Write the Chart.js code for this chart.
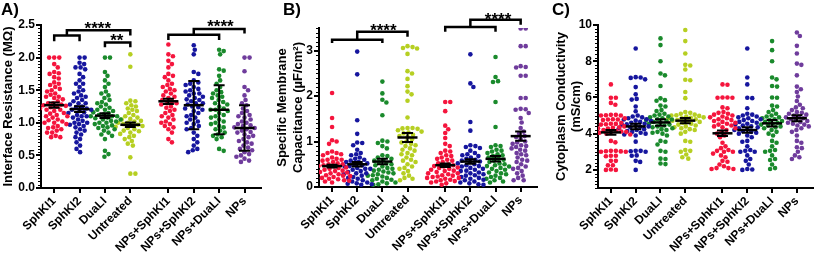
<!DOCTYPE html>
<html>
<head>
<meta charset="utf-8">
<script src="https://cdn.jsdelivr.net/npm/chart.js@4.4.1/dist/chart.umd.min.js"></script>
<style>
  html, body { margin: 0; padding: 0; background: #fff; }
  #wrap { position: relative; width: 817px; height: 254px; overflow: hidden; font-family: "Liberation Sans", Arial, sans-serif; }
  canvas { position: absolute; top: 0; }
  .tag { position: absolute; top: 1px; font-weight: bold; font-size: 17px; line-height: 17px; color: #000; }
</style>
</head>
<body>
<div id="wrap">
  <canvas id="chartA" width="270" height="254" style="left:0px"></canvas>
  <canvas id="chartB" width="275" height="254" style="left:270px"></canvas>
  <canvas id="chartC" width="272" height="254" style="left:545px"></canvas>
  <div class="tag" style="left:1px">A)</div>
  <div class="tag" style="left:283px">B)</div>
  <div class="tag" style="left:552px">C)</div>
</div>
<script>
// categories, shared by all three panels (gap between the two groups of four)
const catLabels = ['SphKI1', 'SphKI2', 'DuaLI', 'Untreated', 'NPs+SphKI1', 'NPs+SphKI2', 'NPs+DuaLI', 'NPs'];
const catPos = [0, 1, 2, 3, 4.5, 5.5, 6.5, 7.5];
const dotColors = ['#f5153d', '#16169e', '#1a8a2c', '#b6cf22', '#f5153d', '#16169e', '#1a8a2c', '#6f3c9c'];

// A) interface resistance (MΩ)
const resSphKI1 = [2.0,2.0,2.0,1.9,1.85,1.78,1.76,1.75,1.7,1.68,1.62,1.6,1.58,1.55,1.52,1.5,1.48,1.45,1.43,1.4,1.4,1.38,1.36,1.33,1.3,1.3,1.28,1.27,1.26,1.25,1.24,1.22,1.2,1.2,1.18,1.15,1.14,1.12,1.1,1.1,1.08,1.05,1.04,1.02,1.0,1.0,0.98,0.95,0.93,0.92,0.9,0.88,0.85,0.85,0.8,0.78,0.78];
const resSphKI2 = [2.0,2.0,1.92,1.9,1.85,1.85,1.82,1.75,1.7,1.65,1.6,1.6,1.55,1.5,1.48,1.45,1.42,1.4,1.38,1.35,1.33,1.3,1.3,1.28,1.25,1.24,1.22,1.2,1.2,1.18,1.16,1.15,1.12,1.1,1.1,1.08,1.05,1.03,1.0,1.0,0.98,0.97,0.95,0.93,0.9,0.88,0.85,0.82,0.78,0.75,0.7,0.65,0.6,0.55];
const resDuaLI = [2.0,2.0,1.78,1.72,1.65,1.6,1.55,1.48,1.45,1.42,1.38,1.35,1.32,1.3,1.28,1.25,1.23,1.2,1.2,1.18,1.16,1.15,1.13,1.12,1.1,1.1,1.1,1.08,1.07,1.05,1.05,1.03,1.02,1.0,1.0,0.98,0.96,0.95,0.93,0.92,0.9,0.88,0.85,0.82,0.8,0.75,0.57,0.52,0.48];
const resUntreated = [2.05,1.86,1.34,1.33,1.3,1.27,1.25,1.22,1.2,1.18,1.15,1.12,1.1,1.08,1.06,1.05,1.03,1.02,1.0,1.0,0.98,0.97,0.96,0.95,0.94,0.92,0.9,0.88,0.87,0.85,0.83,0.8,0.78,0.75,0.72,0.68,0.65,0.47,0.22,0.22];
const resNPsSphKI1 = [2.2,2.05,2.02,1.95,1.9,1.85,1.75,1.72,1.7,1.65,1.6,1.58,1.55,1.52,1.5,1.48,1.45,1.42,1.4,1.38,1.35,1.33,1.3,1.3,1.28,1.25,1.23,1.2,1.18,1.15,1.12,1.1,1.08,1.05,1.02,1.0,0.98,0.95,0.93,0.9,0.85,0.75,0.7];
const resNPsSphKI2 = [2.19,2.12,2.05,1.78,1.75,1.65,1.62,1.6,1.58,1.55,1.52,1.5,1.48,1.45,1.45,1.42,1.4,1.38,1.36,1.35,1.33,1.3,1.3,1.28,1.25,1.24,1.22,1.2,1.18,1.15,1.12,1.1,1.08,1.05,1.02,1.0,0.98,0.95,0.92,0.9,0.85,0.8,0.75,0.7,0.65,0.6,0.58,0.55];
const resNPsDuaLI = [2.12,2.1,2.05,1.82,1.8,1.72,1.65,1.6,1.55,1.5,1.47,1.45,1.42,1.4,1.38,1.35,1.32,1.3,1.28,1.25,1.22,1.2,1.2,1.18,1.15,1.12,1.1,1.08,1.05,1.02,1.0,0.98,0.95,0.93,0.9,0.88,0.85,0.82,0.8,0.78,0.75,0.6,0.57];
const resNPs = [2.0,2.0,1.79,1.55,1.5,1.42,1.35,1.3,1.27,1.22,1.18,1.15,1.12,1.1,1.08,1.05,1.02,1.0,0.98,0.96,0.95,0.93,0.92,0.9,0.88,0.86,0.85,0.82,0.8,0.78,0.75,0.72,0.7,0.68,0.65,0.62,0.6,0.58,0.55,0.52,0.5,0.48,0.45,0.42,0.4];
const resMean = [1.27, 1.21, 1.11, 0.97, 1.33, 1.27, 1.2, 0.92];
const resErr = [0.04, 0.045, 0.035, 0.035, 0.04, 0.37, 0.375, 0.35];
const resTicks = [0, 0.5, 1, 1.5, 2, 2.5];

// B) specific membrane capacitance (µF/cm²)
const capSphKI1 = [2.07,1.52,1.32,1.03,1.0,0.95,0.78,0.75,0.75,0.72,0.7,0.65,0.62,0.6,0.6,0.58,0.55,0.52,0.5,0.5,0.48,0.46,0.45,0.43,0.42,0.4,0.4,0.38,0.36,0.35,0.33,0.32,0.3,0.3,0.28,0.26,0.25,0.24,0.22,0.2,0.2,0.18,0.17,0.15,0.14,0.12,0.1];
const capSphKI2 = [2.98,2.48,1.47,1.17,0.98,0.97,0.92,0.82,0.75,0.72,0.7,0.65,0.62,0.6,0.58,0.55,0.55,0.52,0.5,0.48,0.46,0.45,0.42,0.4,0.4,0.38,0.35,0.33,0.3,0.3,0.28,0.25,0.22,0.2,0.18,0.15,0.12,0.1,0.08,0.07,0.06,0.05];
const capDuaLI = [2.32,2.06,1.92,1.86,1.58,1.02,1.0,0.97,0.9,0.85,0.7,0.68,0.65,0.62,0.6,0.58,0.55,0.52,0.5,0.48,0.45,0.42,0.4,0.38,0.36,0.34,0.32,0.3,0.28,0.26,0.25,0.23,0.2,0.18,0.16,0.15,0.12,0.1,0.08,0.06,0.05];
const capUntreated = [3.1,3.08,3.06,3.05,2.93,2.55,2.5,2.38,2.22,2.1,2.04,1.9,1.53,1.3,1.3,1.29,1.28,1.25,1.22,1.2,1.18,1.15,1.12,1.1,1.05,1.0,0.98,0.95,0.92,0.9,0.85,0.82,0.8,0.75,0.72,0.7,0.65,0.6,0.58,0.55,0.5,0.45,0.42,0.4,0.35,0.3,0.25,0.2,0.18,0.15];
const capNPsSphKI1 = [1.87,1.87,1.67,1.35,1.27,1.19,1.08,0.95,0.9,0.8,0.78,0.75,0.7,0.68,0.65,0.62,0.6,0.58,0.55,0.52,0.5,0.48,0.46,0.45,0.43,0.42,0.4,0.38,0.36,0.35,0.33,0.3,0.3,0.28,0.26,0.25,0.23,0.22,0.2,0.2,0.18,0.16,0.15,0.13,0.12,0.1,0.08,0.05];
const capNPsSphKI2 = [2.92,2.28,2.2,1.43,1.24,0.92,0.9,0.88,0.86,0.8,0.75,0.72,0.7,0.68,0.65,0.62,0.6,0.58,0.56,0.55,0.52,0.5,0.48,0.46,0.45,0.42,0.4,0.38,0.36,0.35,0.32,0.3,0.28,0.26,0.25,0.22,0.2,0.18,0.16,0.15,0.12,0.1,0.08,0.06,0.05];
const capNPsDuaLI = [2.86,2.42,2.33,2.31,1.87,1.32,0.92,0.9,0.88,0.82,0.8,0.78,0.75,0.72,0.7,0.68,0.65,0.62,0.6,0.58,0.55,0.52,0.5,0.48,0.46,0.45,0.42,0.4,0.38,0.35,0.32,0.3,0.28,0.25,0.22,0.2,0.18,0.15,0.12,0.1];
const capNPs = [3.49,3.49,3.1,3.1,2.66,2.64,2.63,2.45,2.45,1.96,1.96,1.72,1.71,1.7,1.63,1.52,1.42,1.3,1.22,1.18,1.12,1.1,1.05,1.0,0.98,0.95,0.92,0.9,0.88,0.85,0.82,0.8,0.75,0.72,0.7,0.65,0.6,0.58,0.55,0.5,0.45,0.42,0.4,0.35,0.3,0.25,0.2,0.15,0.15];
const capMean = [0.46, 0.5, 0.56, 1.09, 0.48, 0.56, 0.62, 1.12];
const capErr = [0.03, 0.05, 0.06, 0.1, 0.04, 0.05, 0.06, 0.1];
const capTicks = [0, 1, 2, 3];

// C) cytoplasm conductivity (mS/cm)
const conSphKI1 = [6.72,5.98,5.98,5.7,5.6,5.04,5.04,5.02,5.0,5.0,4.85,4.8,4.78,4.78,4.75,4.6,4.55,4.54,4.52,4.5,4.4,4.35,4.32,4.3,4.28,4.2,4.15,4.12,4.1,4.08,4.05,4.02,4.0,3.95,3.6,3.52,3.05,3.05,3.03,3.02,3.0,3.0,2.78,2.78,2.75,2.5,2.5,2.26,2.25,2.02,2.0,2.0];
const conSphKI2 = [8.7,7.12,7.1,7.08,7.0,6.57,6.17,5.92,5.88,5.5,5.24,5.0,4.95,4.9,4.85,4.8,4.78,4.72,4.7,4.65,4.6,4.55,4.52,4.5,4.45,4.4,4.38,4.35,4.3,4.25,4.2,4.15,4.1,4.05,4.0,3.95,3.9,3.56,3.05,3.05,3.03,3.0,2.8,2.78,2.5,2.44,2.0];
const conDuaLI = [9.26,8.89,8.0,7.32,7.22,6.63,5.95,5.85,5.82,5.55,5.5,5.3,5.25,5.1,5.05,5.0,4.95,4.9,4.85,4.8,4.78,4.75,4.7,4.65,4.6,4.55,4.5,4.45,4.4,4.35,4.3,4.25,4.2,4.1,4.05,4.0,3.9,3.6,3.55,3.4,3.05,3.0,2.62,2.6,2.35,2.32];
const conUntreated = [9.72,9.11,8.43,7.8,7.76,7.54,6.98,6.95,6.3,5.96,5.2,5.15,5.1,5.05,5.02,5.0,4.98,4.95,4.9,4.88,4.85,4.82,4.8,4.75,4.72,4.7,4.65,4.6,4.55,4.5,4.45,4.4,4.35,4.3,4.25,4.2,4.1,4.0,3.6,3.55,3.1,3.05,3.0,2.85,2.7,2.62];
const conNPsSphKI1 = [6.72,6.7,6.0,6.0,5.98,5.98,5.45,5.4,5.2,5.15,5.1,5.05,5.0,4.95,4.9,4.85,4.8,4.75,4.7,4.65,4.6,4.55,4.5,4.45,4.4,4.35,4.3,4.2,4.1,4.0,3.9,3.8,3.5,3.3,3.2,3.1,3.05,3.0,3.0,2.9,2.8,2.7,2.5,2.45,2.3,2.2,2.1,2.1,2.05,2.05];
const conNPsSphKI2 = [8.7,7.1,6.72,5.98,5.96,5.4,5.1,5.05,5.0,4.95,4.9,4.85,4.8,4.75,4.7,4.65,4.6,4.55,4.5,4.45,4.4,4.35,4.3,4.25,4.2,4.15,4.1,4.05,4.0,3.9,3.8,3.6,3.55,3.3,3.1,3.05,3.0,3.0,2.8,2.6,2.5,2.3,2.05,2.02,2.0];
const conNPsDuaLI = [9.11,8.61,8.0,7.1,7.0,6.63,6.6,6.0,5.98,5.55,5.5,5.3,5.2,5.1,5.0,4.95,4.9,4.85,4.8,4.75,4.7,4.65,4.6,4.55,4.5,4.45,4.4,4.35,4.3,4.2,4.1,4.0,3.9,3.6,3.5,3.3,3.1,3.05,3.0,2.8,2.6,2.55,2.3,2.1,2.05];
const conNPs = [9.59,9.39,8.85,8.43,7.87,7.8,7.22,6.6,6.45,6.3,6.05,5.8,5.6,5.45,5.4,5.3,5.2,5.15,5.1,5.05,5.0,4.95,4.9,4.85,4.8,4.75,4.7,4.65,4.6,4.55,4.5,4.45,4.4,4.3,4.2,4.1,3.9,3.6,3.5,3.25,3.2,3.0,2.8,2.7,2.6];
const conMean = [4.07, 4.4, 4.62, 4.72, 4.02, 4.2, 4.57, 4.85];
const conErr = [0.13, 0.15, 0.18, 0.15, 0.15, 0.15, 0.18, 0.16];
const conTicks = [2, 4, 6, 8, 10];

// significance brackets: category index (fractional = between), y in data units
const resBrackets = [
  { from: 0, to: 1, y: 2.34, dropL: 0.09, dropR: 0.09 },
  { from: 0.5, to: 3, y: 2.42, dropL: 0.08, dropR: 0.08 },
  { from: 2, to: 3, y: 2.23, dropL: 0.07, dropR: 0.07 },
  { from: 4, to: 6, y: 2.35, dropL: 0.08, dropR: 0.08 },
  { from: 5, to: 7, y: 2.44, dropL: 0.09, dropR: 0.07 },
];
const resStars = [
  { at: 1.72, y: 2.51, text: '****' },
  { at: 2.47, y: 2.33, text: '**' },
  { at: 6.05, y: 2.54, text: '****' },
];
const capBrackets = [
  { from: 0, to: 2, y: 3.24, dropL: 0.07, dropR: 0.07 },
  { from: 1, to: 3, y: 3.42, dropL: 0.18, dropR: 0.11 },
  { from: 4, to: 6, y: 3.52, dropL: 0.1, dropR: 0.1 },
  { from: 5, to: 7, y: 3.68, dropL: 0.16, dropR: 0.11 },
];
const capStars = [
  { at: 2.04, y: 3.55, text: '****' },
  { at: 6.1, y: 3.79, text: '****' },
];

const FONT = '"Liberation Sans", Arial, sans-serif';

function catPixel(scale, idx) {
  const lo = Math.floor(idx), hi = Math.ceil(idx);
  const v = catPos[lo] + (catPos[hi] - catPos[lo]) * (idx - lo);
  return scale.getPixelForValue(v);
}

// spread dots sideways so they do not overlap (layout only, values untouched)
function swarmOffsets(vals, pxPerY, pxPerX) {
  const d = 4.6;
  const placed = [];
  const out = new Array(vals.length).fill(0);
  const order = vals.map((v, i) => i).sort((a, b) => vals[b] - vals[a]);
  for (const i of order) {
    const y = vals[i] * pxPerY;
    let off = 0;
    for (let k = 0; k < 400; k++) {
      const c = (k % 2 === 1 ? 1 : -1) * Math.ceil(k / 2) * 0.5;
      const hit = placed.some(p => (p.x - c) ** 2 + (p.y - y) ** 2 < d * d);
      if (!hit) { off = c; break; }
    }
    placed.push({ x: off, y });
    out[i] = off / pxPerX;
  }
  return out;
}

function overlayPlugin(o) {
  return {
    id: 'overlay',
    afterDatasetsDraw(chart) {
      const { ctx, scales: { x, y } } = chart;
      ctx.save();
      ctx.strokeStyle = '#000';
      // mean ± error
      o.means.forEach((m, g) => {
        const cx = x.getPixelForValue(catPos[g]);
        const ym = y.getPixelForValue(m);
        const yt = y.getPixelForValue(m + o.errs[g]);
        const yb = y.getPixelForValue(m - o.errs[g]);
        ctx.lineWidth = 2;
        ctx.beginPath();
        ctx.moveTo(cx, yt); ctx.lineTo(cx, yb);
        ctx.moveTo(cx - 5.5, yt); ctx.lineTo(cx + 5.5, yt);
        ctx.moveTo(cx - 5.5, yb); ctx.lineTo(cx + 5.5, yb);
        ctx.stroke();
        ctx.lineWidth = 2.5;
        ctx.beginPath();
        ctx.moveTo(cx - 10, ym); ctx.lineTo(cx + 10, ym);
        ctx.stroke();
      });
      // brackets
      ctx.lineWidth = 2.5;
      ctx.lineJoin = 'miter';
      (o.brackets || []).forEach(b => {
        const x1 = catPixel(x, b.from), x2 = catPixel(x, b.to);
        ctx.beginPath();
        ctx.moveTo(x1, y.getPixelForValue(b.y - b.dropL));
        ctx.lineTo(x1, y.getPixelForValue(b.y));
        ctx.lineTo(x2, y.getPixelForValue(b.y));
        ctx.lineTo(x2, y.getPixelForValue(b.y - b.dropR));
        ctx.stroke();
      });
      ctx.fillStyle = '#000';
      ctx.font = 'bold 17px ' + FONT;
      ctx.textAlign = 'center';
      ctx.textBaseline = 'alphabetic';
      (o.stars || []).forEach(s => {
        ctx.fillText(s.text, catPixel(x, s.at), y.getPixelForValue(s.y) + 10);
      });
      ctx.restore();
    },
    afterDraw(chart) {
      // minor ticks on the y axis
      const { ctx, scales: { y } } = chart;
      ctx.save();
      ctx.strokeStyle = '#000';
      ctx.lineWidth = 1;
      ctx.beginPath();
      for (let v = o.yMin; v <= o.yMax + 1e-9; v += o.minor) {
        const py = Math.round(y.getPixelForValue(v)) + 0.5;
        ctx.moveTo(y.right - 3, py); ctx.lineTo(y.right, py);
      }
      ctx.stroke();
      ctx.restore();
    },
  };
}

function makePanel(id, groups, o) {
  const datasets = groups.map((vals, g) => {
    const offs = swarmOffsets(vals, o.pxY, 25);
    return {
      data: vals.map((v, i) => ({ x: catPos[g] + offs[i], y: v })),
      backgroundColor: dotColors[g],
      borderWidth: 0,
      pointRadius: 2.3,
    };
  });
  const tickFont = { family: FONT, size: 12, weight: 'bold' };
  return new Chart(document.getElementById(id), {
    type: 'scatter',
    data: { datasets },
    options: {
      responsive: false,
      animation: false,
      events: [],
      layout: { padding: o.padding },
      plugins: { legend: { display: false }, tooltip: { enabled: false } },
      scales: {
        x: {
          type: 'linear', min: -0.52, max: 8.15,
          afterBuildTicks: s => { s.ticks = catPos.map(v => ({ value: v })); },
          ticks: {
            callback: (v, i) => catLabels[i],
            autoSkip: false, minRotation: 45, maxRotation: 45,
            font: { family: FONT, size: 12, weight: 'bold' }, color: '#000', padding: 1,
          },
          grid: { drawOnChartArea: false, tickLength: 5, color: '#000', lineWidth: 2 },
          border: { color: '#000', width: 2 },
          afterFit: s => { s.height = o.xHeight; s.paddingLeft = 0; s.paddingRight = 0; },
        },
        y: {
          min: o.yMin, max: o.yMax,
          afterBuildTicks: s => { s.ticks = o.ticks.map(v => ({ value: v })); },
          ticks: { callback: o.fmt, font: tickFont, color: '#000', padding: 1 },
          grid: { drawOnChartArea: false, tickLength: 5, color: '#000', lineWidth: 2 },
          border: { color: '#000', width: 2 },
          title: {
            display: true, text: o.title, color: '#000',
            font: { family: FONT, size: 13, weight: 'bold', lineHeight: o.titleLH },
            padding: { top: o.titlePad, bottom: 0 },
          },
          afterFit: s => { s.width = o.yWidth; s.paddingTop = 0; s.paddingBottom = 0; },
        },
      },
    },
    plugins: [overlayPlugin(o)],
  });
}

makePanel('chartA',
  [resSphKI1, resSphKI2, resDuaLI, resUntreated, resNPsSphKI1, resNPsSphKI2, resNPsDuaLI, resNPs], {
    means: resMean, errs: resErr, brackets: resBrackets, stars: resStars,
    yMin: 0, yMax: 2.5, ticks: resTicks, minor: 0.05, fmt: v => v.toFixed(1),
    title: 'Interface Resistance (MΩ)', titleLH: 1.2, titlePad: 1,
    pxY: 65.2, yWidth: 41, xHeight: 66, padding: { top: 25, right: 9, bottom: 0, left: 0 },
  });

makePanel('chartB',
  [capSphKI1, capSphKI2, capDuaLI, capUntreated, capNPsSphKI1, capNPsSphKI2, capNPsDuaLI, capNPs], {
    means: capMean, errs: capErr, brackets: capBrackets, stars: capStars,
    yMin: 0, yMax: 3.5, ticks: capTicks, minor: 0.1, fmt: v => String(v),
    title: ['Specific Membrane', 'Capacitance (µF/cm²)'], titleLH: 1.25, titlePad: 4,
    pxY: 45.4, yWidth: 49, xHeight: 67, padding: { top: 28, right: 8, bottom: 0, left: 0 },
  });

makePanel('chartC',
  [conSphKI1, conSphKI2, conDuaLI, conUntreated, conNPsSphKI1, conNPsSphKI2, conNPsDuaLI, conNPs], {
    means: conMean, errs: conErr,
    yMin: 1, yMax: 10, ticks: conTicks, minor: 0.2, fmt: v => String(v),
    title: ['Cytoplasm Conductivity', '(mS/cm)'], titleLH: 1.15, titlePad: 8.5,
    pxY: 18.1, yWidth: 53, xHeight: 66, padding: { top: 25, right: 1, bottom: 0, left: 0 },
  });
</script>
</body>
</html>
